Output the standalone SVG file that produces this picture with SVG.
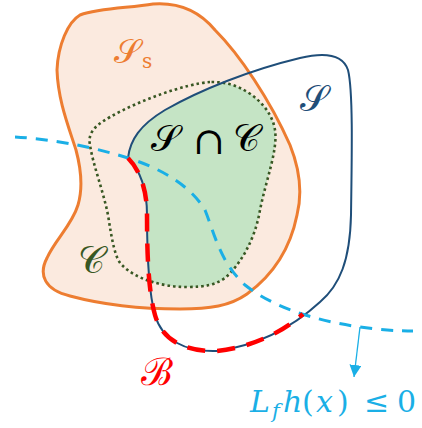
<svg xmlns="http://www.w3.org/2000/svg" width="422" height="428" viewBox="0 0 422 428">
<style>
.cal{font-family:"DejaVu Serif","Liberation Serif",serif}
.rm{font-family:"DejaVu Serif","Liberation Serif",serif;font-style:normal}
.it{font-family:"DejaVu Serif","Liberation Serif",serif;font-style:italic}
</style>
<defs>
<clipPath id="clipS"><path d="M128,158 C130,140 140,125 165,110 C200,90 250,70 300,58 C325,52 343,55 348,70 C353,90 352,150 351,215 C350,260 340,285 320,302 C295,325 260,345 217,351 C185,352 162,340 155,315 C148,290 147,250 147,215 C147,190 140,170 128,158 Z"/></clipPath>
<marker id="ah" viewBox="0 0 10 10" refX="10" refY="5" markerWidth="12" markerHeight="12" orient="auto" markerUnits="userSpaceOnUse"><path d="M0,0 L10,5 L0,10 Z" fill="#1AAFE6"/></marker>
</defs>
<rect width="422" height="428" fill="#fff"/>
<g id="Ss">
<path d="M80,15 C100,8 130,8 153,4 C180,2 200,12 215,30 C240,55 270,100 290,145 C300,170 302,195 297,215 C292,240 280,270 247,294 C230,306 210,309 180,309 C140,309 100,304 70,296 C45,290 38,275 47,258 C55,240 72,225 78,205 C84,185 80,165 76,150 C68,125 58,100 57,70 C58,45 68,22 80,15 Z" fill="#FBEADF" stroke="#ED7D31" stroke-width="3"/>
</g>
<g id="SC">
<path clip-path="url(#clipS)" d="M210,82 C185,84 140,100 110,117 C92,127 88,135 90,145 C93,165 103,190 108,215 C112,240 115,260 123,266 C135,278 160,287 187,287 C205,287 215,285 225,278 C240,265 255,240 260,210 C266,180 278,150 275,130 C272,110 255,95 240,88 C230,83 220,82 210,82 Z" fill="#C5E4C5"/>
</g>
<g id="C">
<path d="M210,82 C185,84 140,100 110,117 C92,127 88,135 90,145 C93,165 103,190 108,215 C112,240 115,260 123,266 C135,278 160,287 187,287 C205,287 215,285 225,278 C240,265 255,240 260,210 C266,180 278,150 275,130 C272,110 255,95 240,88 C230,83 220,82 210,82 Z" fill="none" stroke="#385723" stroke-width="2.6" stroke-dasharray="2.6 3"/>
</g>
<g id="S">
<path d="M128,158 C130,140 140,125 165,110 C200,90 250,70 300,58 C325,52 343,55 348,70 C353,90 352,150 351,215 C350,260 340,285 320,302 C295,325 260,345 217,351 C185,352 162,340 155,315 C148,290 147,250 147,215 C147,190 140,170 128,158 Z" fill="none" stroke="#1F4E79" stroke-width="2"/>
</g>
<g id="connectors">
<path d="M15,137 C50,139 90,146 128,158 C160,168 190,185 205,210 C215,235 220,262 245,285 C270,305 310,320 360,327 C380,330 400,331 413,331" fill="none" stroke="#1AAFE6" stroke-width="3" stroke-dasharray="12 9"/>
<path d="M128,158 C140,170 147,190 147,215 C147,250 148,290 155,315 C162,340 185,352 217,351 C255,347 285,330 303,314" fill="none" stroke="#FF0000" stroke-width="4.5" stroke-dasharray="18 12"/>
<path d="M360,327 L354,377" fill="none" stroke="#1AAFE6" stroke-width="1.3" marker-end="url(#ah)"/>
</g>
<g id="labels">
<text x="114" y="63" class="cal" font-size="34" fill="#ED7D31">𝒮</text>
<text x="142" y="68" class="rm" font-size="20" fill="#ED7D31">s</text>
<text x="300" y="111" class="cal" font-size="36" fill="#1F4E79">𝒮</text>
<text x="151" y="151" class="cal" font-size="37" fill="#000">𝒮</text>
<text x="193" y="154" class="rm" font-size="38" fill="#000">∩</text>
<text x="233" y="151" class="cal" font-size="37" fill="#000">𝒞</text>
<text x="78" y="273" class="cal" font-size="37" fill="#385723">𝒞</text>
<text x="141" y="385" class="cal" font-size="38" fill="#FF0000">ℬ</text>
<g fill="#1AAFE6">
<text x="250" y="412" class="it" font-size="30">L</text>
<text x="272" y="418" class="it" font-size="21">f</text>
<text x="283" y="412" class="it" font-size="30">h</text>
<text x="302" y="412" class="rm" font-size="30">(</text>
<text x="316" y="412" class="it" font-size="30">x</text>
<text x="337" y="412" class="rm" font-size="30">)</text>
<text x="364" y="412" class="rm" font-size="30">≤</text>
<text x="397" y="412" class="rm" font-size="30">0</text>
</g>
</g>
</svg>
